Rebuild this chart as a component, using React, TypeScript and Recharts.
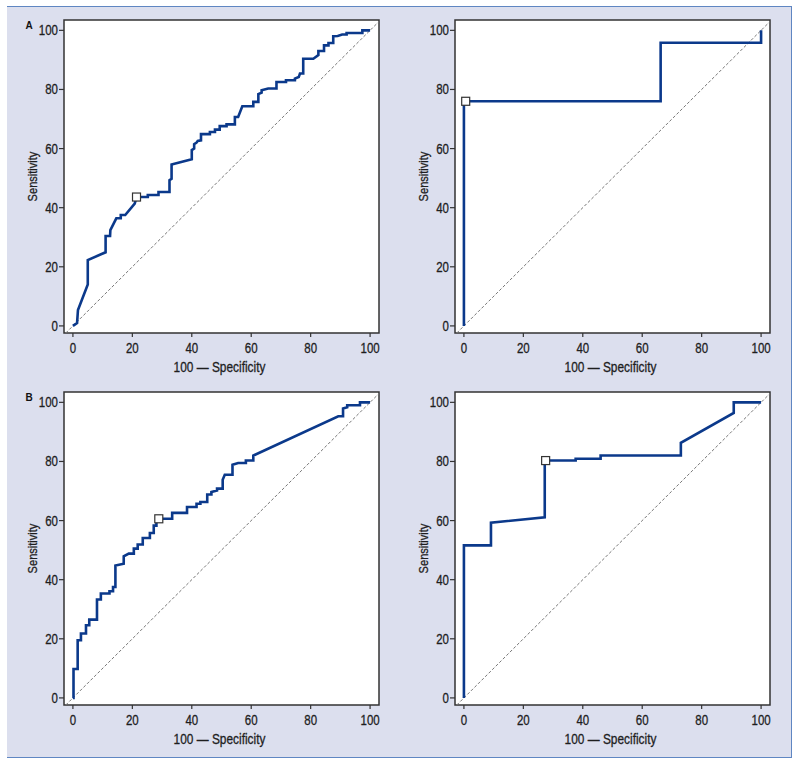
import { ComposedChart, Line, Scatter, XAxis, YAxis, ReferenceLine, ReferenceArea, CartesianGrid } from 'recharts';

// Arial metrics squeezed to 82% = Arial Narrow look-alike
const FONT = "'Liberation Sans', Arial, sans-serif";
const SQUEEZE = 0.82;
const CURVE = '#0b398b';
const FRAME = '#333';
const INK = '#1e1e1e';
const INK_WEIGHT = 0.3;

const TICKS = [0, 20, 40, 60, 80, 100];
const X_LABEL = '100 \u2014 Specificity';
const Y_LABEL = 'Sensitivity';
const X_DOMAIN = [-3, 103];
const Y_DOMAIN = [-2.4, 103.5];

// panel A, left: 100 - specificity / sensitivity
const A_FPR = [
    0, 1.4, 1.7, 5.0, 5.0, 11.0, 11.0, 12.5, 12.6, 14.6, 16.1, 16.1, 17.6, 20.8, 21.4,
    25.2, 25.2, 28.8, 28.8, 32.5, 32.5, 33.2, 33.2, 40.0, 40.0, 40.8, 40.8, 41.6, 42.0,
    43.1, 43.1, 46.1, 46.1, 47.8, 47.8, 49.4, 49.4, 51.7, 51.7, 54.5, 54.5, 55.6, 57.0,
    60.7, 60.7, 62.4, 62.4, 63.5, 63.5, 65.7, 68.5, 68.5, 71.7, 71.7, 74.7, 74.7, 76.0,
    76.4, 77.5, 77.5, 80.9, 82.6, 82.6, 84.5, 84.5, 86.0, 86.0, 87.6, 87.6, 89.1, 90.6,
    92.1, 92.1, 97.4, 97.4, 100,
];
const A_SENS = [
    0, 1.0, 5.4, 14.0, 22.3, 24.9, 30.4, 30.4, 32.4, 36.4, 36.4, 37.5, 37.5, 41.4, 43.6,
    43.6, 44.3, 44.3, 45.3, 45.3, 49.3, 49.8, 54.6, 56.4, 59.5, 60.0, 61.5, 62.0, 62.6,
    62.8, 64.9, 64.9, 65.6, 65.6, 66.4, 66.4, 67.6, 67.6, 68.2, 68.2, 70.7, 70.7, 74.3,
    74.3, 75.8, 75.8, 78.4, 78.9, 79.7, 80.3, 80.3, 82.5, 82.5, 83.1, 83.1, 83.7, 84.2,
    85.4, 85.4, 90.4, 90.4, 91.6, 93.0, 93.0, 94.9, 94.9, 95.7, 95.7, 98.0, 98.1, 98.6,
    98.6, 99.1, 99.1, 100, 100,
];
const A_CUT = [{ x: 21.4, y: 43.6 }];

// panel A, right
const B_FPR = [0, 0, 66.2, 66.2, 100, 100];
const B_SENS = [0, 76, 76, 95.8, 95.8, 100];
const B_CUT = [{ x: 0.6, y: 76 }];

// panel B, left
const C_FPR = [
    0, 0.2, 0.2, 1.6, 1.6, 2.7, 2.7, 4.4, 4.4, 5.5, 5.5, 8.1, 8.1, 9.4, 9.4, 12.3, 12.3,
    13.5, 13.5, 14.3, 14.3, 17.1, 17.1, 18.8, 20.5, 20.5, 21.8, 21.8, 23.5, 23.5, 25.9,
    25.9, 27.2, 27.2, 28.1, 28.1, 28.9, 33.4, 33.4, 38.4, 38.4, 41.6, 41.6, 42.9, 42.9,
    45.2, 45.2, 46.6, 46.6, 48.5, 48.5, 50.4, 50.4, 51.1, 53.7, 53.7, 55.6, 58.2, 58.2,
    60.7, 60.7, 89.3, 90.9, 90.9, 92.3, 92.3, 96.6, 96.6, 100,
];
const C_SENS = [
    0, 0, 9.8, 9.8, 19.5, 19.5, 21.8, 21.8, 24.6, 24.6, 26.5, 26.5, 33.3, 33.3, 35.3,
    35.3, 36.1, 36.1, 37.5, 37.5, 44.8, 45.4, 47.9, 48.8, 48.8, 50.5, 50.5, 51.9, 51.9,
    54.1, 54.1, 55.8, 55.8, 58.3, 58.3, 59.7, 60.6, 60.6, 62.6, 62.6, 64.6, 64.6, 65.7,
    65.7, 66.3, 66.3, 68.8, 68.8, 69.7, 70.2, 70.8, 70.8, 73.8, 75.5, 75.5, 78.9, 79.5,
    79.5, 80.3, 80.3, 82.0, 95.3, 95.3, 97.9, 98.3, 99.0, 99.0, 100, 100,
];
const C_CUT = [{ x: 28.9, y: 60.6 }];

// panel B, right
const D_FPR = [0, 0, 9.1, 9.1, 27.2, 27.2, 37.6, 37.6, 46.0, 46.0, 73.0, 73.0, 90.8, 90.8, 100];
const D_SENS = [0, 51.6, 51.6, 59.3, 61.1, 80.3, 80.3, 80.9, 80.9, 82.0, 82.0, 86.3, 96.4, 100, 100];
const D_CUT = [{ x: 27.5, y: 80.3 }];

const toPoints = (xs: number[], ys: number[]) => xs.map((x, i) => ({ x, y: ys[i] }));

type TickProps = { x?: number; y?: number; payload?: { value: number } };

const XTick = ({ x = 0, y = 0, payload }: TickProps) => (
    <text
        transform={`translate(${x},${y}) scale(${SQUEEZE},1)`}
        textAnchor="middle"
        dy="0.71em"
        fill={INK}
        stroke={INK}
        strokeWidth={INK_WEIGHT}
        fontSize={14}
        fontFamily={FONT}
    >
        {payload?.value}
    </text>
);

const YTick = ({ x = 0, y = 0, payload }: TickProps) => (
    <text
        transform={`translate(${x},${y}) scale(${SQUEEZE},1)`}
        textAnchor="end"
        dy="0.355em"
        fill={INK}
        stroke={INK}
        strokeWidth={INK_WEIGHT}
        fontSize={14}
        fontFamily={FONT}
    >
        {payload?.value}
    </text>
);

const CutMarker = (props: { cx?: number; cy?: number }) => {
    const { cx = 0, cy = 0 } = props;
    return <rect x={cx - 4} y={cy - 4} width={8} height={8} fill="#fff" stroke={FRAME} strokeWidth={1.2} />;
};

type PanelProps = {
    left: number;
    top: number;
    fpr: number[];
    sens: number[];
    cut: { x: number; y: number }[];
    tag?: string;
};

function RocPanel({ left, top, fpr, sens, cut, tag }: PanelProps) {
    const points = toPoints(fpr, sens);
    return (
        <div style={{ position: 'absolute', left, top, width: 400, height: 380 }}>
            <ComposedChart width={400} height={380} margin={{ top: 20, right: 21, bottom: 0, left: 0 }}>
                <CartesianGrid horizontal={false} vertical={false} fill="#fff" fillOpacity={1} />
                <XAxis
                    type="number"
                    dataKey="x"
                    domain={X_DOMAIN}
                    ticks={TICKS}
                    allowDataOverflow
                    height={47}
                    axisLine={false}
                    tickLine={{ stroke: FRAME, strokeWidth: 1.2 }}
                    tickSize={4}
                    tickMargin={6}
                    tick={<XTick />}
                />
                <YAxis
                    type="number"
                    dataKey="y"
                    domain={Y_DOMAIN}
                    ticks={TICKS}
                    allowDataOverflow
                    width={64}
                    axisLine={false}
                    tickLine={{ stroke: FRAME, strokeWidth: 1.2 }}
                    tickSize={5}
                    tickMargin={1}
                    tick={<YTick />}
                />
                <ReferenceArea
                    x1={X_DOMAIN[0]}
                    x2={X_DOMAIN[1]}
                    y1={Y_DOMAIN[0]}
                    y2={Y_DOMAIN[1]}
                    fill="none"
                    stroke={FRAME}
                    strokeWidth={1.5}
                    ifOverflow="visible"
                />
                <ReferenceLine
                    segment={[{ x: -2.4, y: -2.4 }, { x: 103, y: 103 }]}
                    stroke="#777"
                    strokeWidth={1}
                    strokeDasharray="3 2"
                    ifOverflow="visible"
                />
                <Line
                    data={points}
                    dataKey="y"
                    type="linear"
                    stroke={CURVE}
                    strokeWidth={2.6}
                    dot={false}
                    activeDot={false}
                    isAnimationActive={false}
                />
                <Scatter data={cut} dataKey="y" shape={<CutMarker />} isAnimationActive={false} />
            </ComposedChart>
            <svg width={400} height={380} style={{ position: 'absolute', left: 0, top: 0, pointerEvents: 'none' }}>
                <text
                    transform={`translate(219.5,372) scale(${SQUEEZE},1)`}
                    textAnchor="middle"
                    fill={INK}
                    stroke={INK}
                    strokeWidth={INK_WEIGHT}
                    fontSize={14.5}
                    fontFamily={FONT}
                >
                    {X_LABEL}
                </text>
                <text
                    transform={`translate(36.5,176.5) rotate(-90) scale(${SQUEEZE},1)`}
                    textAnchor="middle"
                    fill={INK}
                    stroke={INK}
                    strokeWidth={INK_WEIGHT}
                    fontSize={13.5}
                    fontFamily={FONT}
                >
                    {Y_LABEL}
                </text>
                {tag && (
                    <text x={25.5} y={28.5} fill="#111" fontSize={10} fontWeight={700} fontFamily={FONT}>
                        {tag}
                    </text>
                )}
            </svg>
        </div>
    );
}

export default function App() {
    return (
        <div style={{ position: 'absolute', left: 0, top: 0, width: 800, height: 765, background: '#fff' }}>
            <div
                style={{
                    position: 'absolute',
                    left: 7,
                    top: 6,
                    width: 784,
                    height: 750,
                    background: '#dcdfee',
                    borderTop: '1px solid #5f86c2',
                    borderRight: '1px solid #5f86c2',
                    borderBottom: '1px solid #5f86c2',
                }}
            />
            <RocPanel left={0} top={0} fpr={A_FPR} sens={A_SENS} cut={A_CUT} tag="A" />
            <RocPanel left={391} top={0} fpr={B_FPR} sens={B_SENS} cut={B_CUT} />
            <RocPanel left={0} top={372} fpr={C_FPR} sens={C_SENS} cut={C_CUT} tag="B" />
            <RocPanel left={391} top={372} fpr={D_FPR} sens={D_SENS} cut={D_CUT} />
        </div>
    );
}
